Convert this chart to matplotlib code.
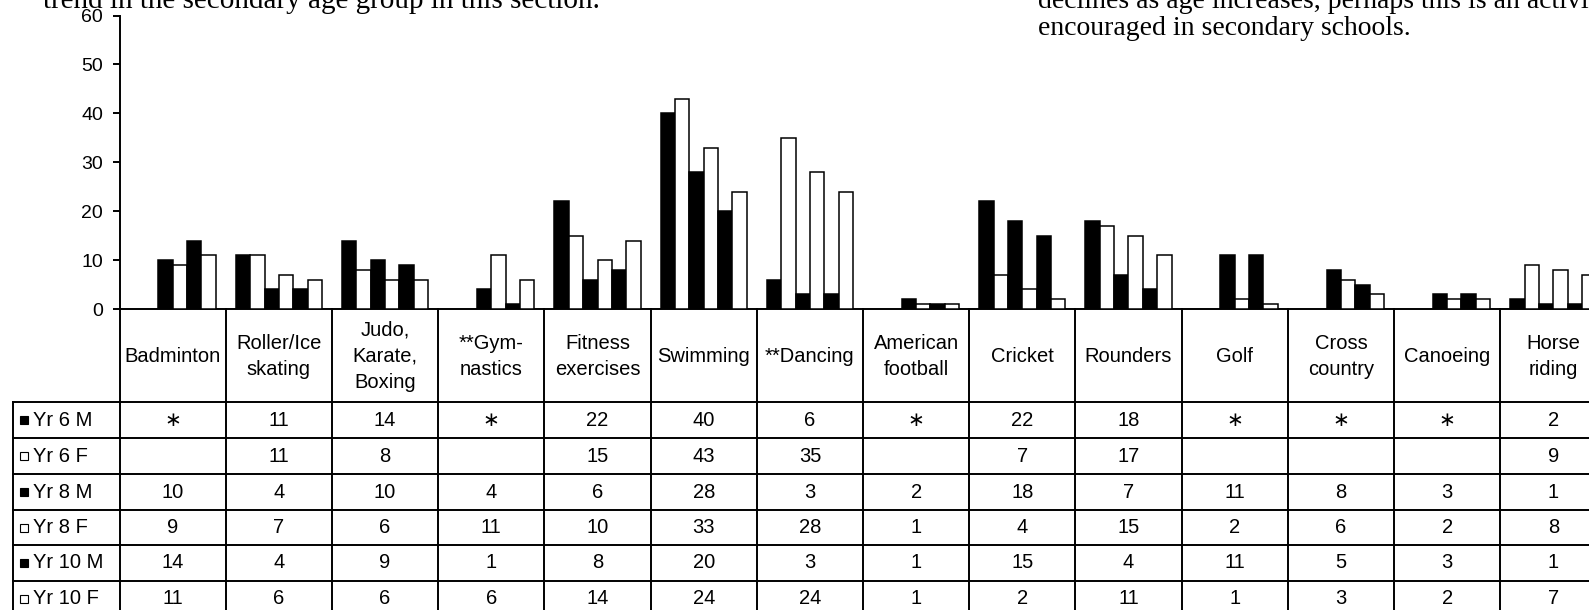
import matplotlib.pyplot as plt
from matplotlib.lines import Line2D
from matplotlib.transforms import blended_transform_factory

# 各项运动的参与百分比（∗ = 该年级男生未统计，空白 = 女生未统计）
categories = ['Badminton', 'Roller/Ice\nskating', 'Judo,\nKarate,\nBoxing', '**Gym-\nnastics',
              'Fitness\nexercises', 'Swimming', '**Dancing', 'American\nfootball', 'Cricket',
              'Rounders', 'Golf', 'Cross\ncountry', 'Canoeing', 'Horse\nriding']
yr6_m = [None, 11, 14, None, 22, 40, 6, None, 22, 18, None, None, None, 2]
yr6_f = [None, 11, 8, None, 15, 43, 35, None, 7, 17, None, None, None, 9]
yr8_m = [10, 4, 10, 4, 6, 28, 3, 2, 18, 7, 11, 8, 3, 1]
yr8_f = [9, 7, 6, 11, 10, 33, 28, 1, 4, 15, 2, 6, 2, 8]
yr10_m = [14, 4, 9, 1, 8, 20, 3, 1, 15, 4, 11, 5, 3, 1]
yr10_f = [11, 6, 6, 6, 14, 24, 24, 1, 2, 11, 1, 3, 2, 7]

series = [yr6_m, yr6_f, yr8_m, yr8_f, yr10_m, yr10_f]
series_names = ['Yr 6 M', 'Yr 6 F', 'Yr 8 M', 'Yr 8 F', 'Yr 10 M', 'Yr 10 F']
series_colors = ['black', 'white', 'black', 'white', 'black', 'white']
missing_text = ['\u2217', '', '', '', '', '']
yticks = [0, 10, 20, 30, 40, 50, 60]

W, H = 1589, 610
sans = ['Liberation Sans', 'DejaVu Sans']
serif = ['Liberation Serif', 'DejaVu Serif']
fs = 14.5
lw = 1.4

fig = plt.figure(figsize=(W / 100, H / 100), dpi=100)
col_w = 106.2
y0_px, y60_px = 309, 15.5
ax = fig.add_axes([119.6 / W, 1 - y0_px / H, 14 * col_w / W, (y0_px - y60_px) / H])
ax.set_xlim(0, len(categories))
ax.set_ylim(0, 60)

# 柱状图：每个类别 6 根柱子
bw = 0.135
for k, (vals, color) in enumerate(zip(series, series_colors)):
    xs = [i + 0.5 + (k - 2.5) * bw for i, v in enumerate(vals) if v is not None]
    hs = [v for v in vals if v is not None]
    ax.bar(xs, hs, width=bw, color=color, edgecolor='black', linewidth=1.1, zorder=3)

ax.set_xticks([])
ax.set_yticks(yticks)
ax.set_yticklabels([str(t) for t in yticks], family=sans, fontsize=14)
ax.tick_params(axis='y', length=5, width=lw, pad=7, direction='out')
for s in ['top', 'right']:
    ax.spines[s].set_visible(False)
for s in ['left', 'bottom']:
    ax.spines[s].set_linewidth(lw)

# 下方数据表
trans = blended_transform_factory(ax.transData, fig.transFigure)
fy = lambda px: 1 - px / H
row_edges = [402, 438, 474, 510, 545, 581, 617]
n = len(categories)

def hline(x0, x1, ypx):
    fig.add_artist(Line2D([x0, x1], [fy(ypx), fy(ypx)], transform=trans, color='black', lw=lw))

def vline(x, ya, yb):
    fig.add_artist(Line2D([x, x], [fy(ya), fy(yb)], transform=trans, color='black', lw=lw))

for ye in row_edges:
    hline(-1, n, ye)
for i in range(n + 1):
    vline(i, y0_px, row_edges[-1])
vline(-1, row_edges[0], row_edges[-1])

for i, cat in enumerate(categories):
    fig.text(i + 0.5, fy((y0_px + row_edges[0]) / 2 + 1), cat, transform=trans, ha='center', va='center',
             family=sans, fontsize=fs, linespacing=1.5)

for r, (name, vals, color, miss) in enumerate(zip(series_names, series, series_colors, missing_text)):
    yc = fy((row_edges[r] + row_edges[r + 1]) / 2)
    fig.add_artist(Line2D([-0.9], [yc], transform=trans, marker='s', markersize=6,
                          markerfacecolor=color, markeredgecolor='black', markeredgewidth=0.8, ls='none'))
    fig.text(-0.815, yc, name, transform=trans, ha='left', va='center', family=sans, fontsize=fs)
    for i, v in enumerate(vals):
        txt = miss if v is None else str(v)
        fig.text(i + 0.5, yc, txt, transform=trans, ha='center', va='center', family=sans, fontsize=fs)

# 正文文字（页面上方）
fig.text(43 / W, fy(8), 'trend in the secondary age group in this section.', family=serif,
         fontsize=21, va='baseline', ha='left')
fig.text(1038 / W, fy(8), 'declines as age increases, perhaps this is an activity that is not',
         family=serif, fontsize=20, va='baseline', ha='left')
fig.text(1038 / W, fy(35), 'encouraged in secondary schools.', family=serif, fontsize=20,
         va='baseline', ha='left')

fig.savefig('out.png', dpi=100)
